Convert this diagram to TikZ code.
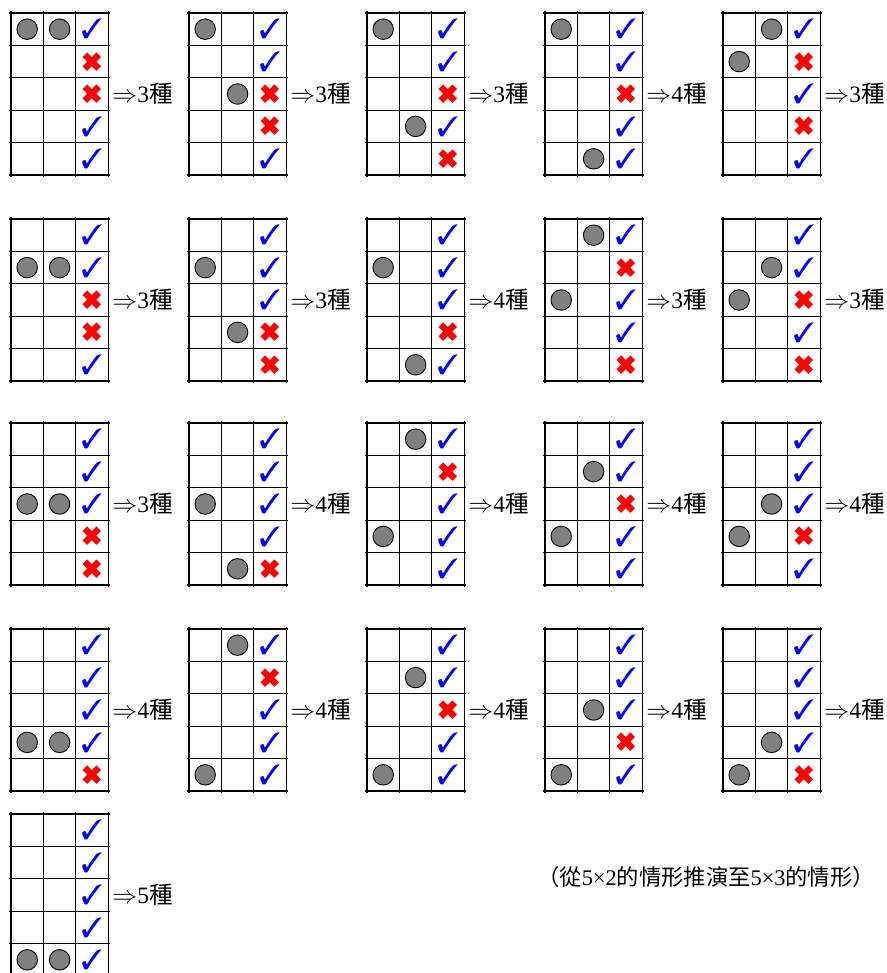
\documentclass[tikz,border=0pt]{standalone}
\usepackage{fontspec}
\setmainfont{Liberation Serif}
\newfontfamily\serifnum{Liberation Serif}
\newfontfamily\cjk{Noto Sans CJK TC}
\usepackage{pifont}
\definecolor{stonegray}{HTML}{808080}
\definecolor{checkblue}{HTML}{0000FF}
\definecolor{crossred}{HTML}{FF0000}
\newcommand\MyChk{\textcolor{checkblue}{\fontsize{28}{28}\selectfont\ding{51}}}
\newcommand\MyCrs{\textcolor{crossred}{\fontsize{27}{27}\selectfont\ding{54}}}
\tikzset{
  gridline/.style={line width=1.3pt, black},
  stone/.style={circle, draw=black, line width=0.9pt, fill=stonegray, minimum size=20.5pt, inner sep=0pt},
  markbox/.style={inner sep=0pt},
  countlabel/.style={inner sep=0pt, anchor=west, font=\fontsize{23.5}{24}\selectfont\serifnum},
  captionstyle/.style={inner sep=0pt, font=\fontsize{22.3}{23}\selectfont\serifnum},
}
\def\cs{32.4}
% #1 name, #2 x, #3 y, #4 stones r/c, #5 marks, #6 count
\newcommand\mygrid[6]{%
  \begin{scope}[shift={(#2,#3)}]
    \foreach \i in {0,...,3} \draw[gridline] (\i*\cs,-2) -- (\i*\cs,5*\cs+2);
    \foreach \j in {0,...,5} \draw[gridline] (-2,\j*\cs) -- (3*\cs+2,\j*\cs);
    \foreach \r/\c in {#4} \node[stone] (#1s\r\c) at ({(\c-0.5)*\cs},{(\r-0.5)*\cs}) {};
    \foreach \m [count=\r] in {#5} \node[markbox] (#1m\r) at ({2.5*\cs},{(\r-0.5)*\cs}) {\ifnum\m=1 \MyChk\else\MyCrs\fi};
    \node[countlabel] (#1l) at ({3*\cs+4},{2.5*\cs}) {$\Rightarrow$#6{\cjk 種}};
  \end{scope}}
\begin{document}
\begin{tikzpicture}[x=1pt,y=-1pt]
\useasboundingbox (0,0) rectangle (886,973);
\clip (0,0) rectangle (886,973);
% row 1
\mygrid{ga}{11}{13}{1/1,1/2}{1,0,0,1,1}{3}
\mygrid{gb}{189}{13}{1/1,3/2}{1,1,0,0,1}{3}
\mygrid{gc}{367}{13}{1/1,4/2}{1,1,0,1,0}{3}
\mygrid{gd}{545}{13}{1/1,5/2}{1,1,0,1,1}{4}
\mygrid{ge}{723}{13}{1/2,2/1}{1,0,1,0,1}{3}
% row 2
\mygrid{gf}{11}{219}{2/1,2/2}{1,1,0,0,1}{3}
\mygrid{gg}{189}{219}{2/1,4/2}{1,1,1,0,0}{3}
\mygrid{gh}{367}{219}{2/1,5/2}{1,1,1,0,1}{4}
\mygrid{gi}{545}{219}{1/2,3/1}{1,0,1,1,0}{3}
\mygrid{gj}{723}{219}{2/2,3/1}{1,1,0,1,0}{3}
% row 3
\mygrid{gk}{11}{423}{3/1,3/2}{1,1,1,0,0}{3}
\mygrid{gl}{189}{423}{3/1,5/2}{1,1,1,1,0}{4}
\mygrid{gm}{367}{423}{1/2,4/1}{1,0,1,1,1}{4}
\mygrid{gn}{545}{423}{2/2,4/1}{1,1,0,1,1}{4}
\mygrid{go}{723}{423}{3/2,4/1}{1,1,1,0,1}{4}
% row 4
\mygrid{gp}{11}{629}{4/1,4/2}{1,1,1,1,0}{4}
\mygrid{gq}{189}{629}{1/2,5/1}{1,0,1,1,1}{4}
\mygrid{gr}{367}{629}{2/2,5/1}{1,1,0,1,1}{4}
\mygrid{gs}{545}{629}{3/2,5/1}{1,1,1,0,1}{4}
\mygrid{gt}{723}{629}{4/2,5/1}{1,1,1,1,0}{4}
% row 5
\mygrid{gu}{11}{814}{5/1,5/2}{1,1,1,1,1}{5}
\node[captionstyle] (caption) at (706,877) {{\cjk （從}5×2{\cjk 的情形推演至}5×3{\cjk 的情形）}};
\end{tikzpicture}
\end{document}
